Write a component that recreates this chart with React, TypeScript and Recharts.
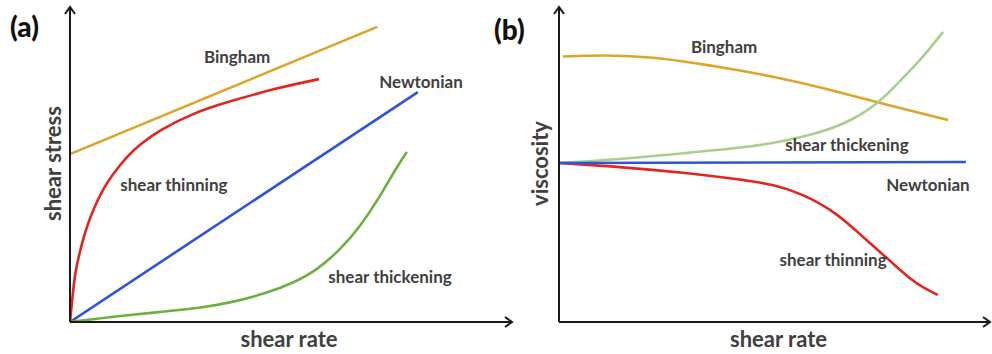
import React from 'react';
import { LineChart, Line, XAxis, YAxis, ReferenceDot } from 'recharts';

// ---- Panel (a): shear stress vs shear rate ----
const aBingham = [{ x: 0, y: 53.3 }, { x: 69.5, y: 93.7 }];
const aNewtonian = [{ x: 0, y: 0 }, { x: 78.7, y: 73.0 }];
const aThinning = [
  { x: 0, y: 0 }, { x: 0.6, y: 8.6 }, { x: 1.2, y: 15.9 }, { x: 2.0, y: 21.0 },
  { x: 3.5, y: 29.2 }, { x: 5.5, y: 36.5 }, { x: 7.5, y: 42.3 }, { x: 9.7, y: 47.0 },
  { x: 12.9, y: 52.6 }, { x: 15.8, y: 56.4 }, { x: 20.4, y: 61.0 }, { x: 27.8, y: 66.3 },
  { x: 35.5, y: 69.8 }, { x: 46.8, y: 74.3 }, { x: 56.3, y: 77.1 },
];
const aThickening = [
  { x: 0, y: 0 }, { x: 9.0, y: 1.6 }, { x: 20.4, y: 3.2 }, { x: 29.4, y: 4.4 },
  { x: 36.9, y: 6.3 }, { x: 44.6, y: 9.2 }, { x: 50.5, y: 12.4 }, { x: 55.9, y: 16.5 },
  { x: 61.1, y: 22.9 }, { x: 65.6, y: 30.2 }, { x: 70.1, y: 39.7 }, { x: 73.1, y: 47.3 },
  { x: 76.2, y: 54.0 },
];
const aLabels = [
  { text: 'Bingham', x: 37.8, y: 84.4 },
  { text: 'Newtonian', x: 79.4, y: 76.5 },
  { text: 'shear thinning', x: 23.5, y: 43.5 },
  { text: 'shear thickening', x: 72.4, y: 14.3 },
];

// ---- Panel (b): viscosity vs shear rate ----
const bBingham = [
  { x: 0.9, y: 84.3 }, { x: 10.7, y: 84.8 }, { x: 22.3, y: 84.1 }, { x: 31.6, y: 82.2 },
  { x: 41.5, y: 80.0 }, { x: 50.1, y: 77.8 }, { x: 60.6, y: 74.6 }, { x: 74.5, y: 69.5 },
  { x: 90.3, y: 64.1 },
];
const bThickening = [
  { x: 0, y: 50.5 }, { x: 14.6, y: 51.7 }, { x: 29.9, y: 53.7 }, { x: 41.5, y: 55.2 },
  { x: 50.1, y: 56.8 }, { x: 60.6, y: 60.0 }, { x: 68.2, y: 64.1 }, { x: 74.5, y: 69.8 },
  { x: 79.8, y: 77.5 }, { x: 84.5, y: 84.1 }, { x: 89.1, y: 92.1 },
];
const bNewtonian = [{ x: 0, y: 50.5 }, { x: 94.4, y: 50.8 }];
const bThinning = [
  { x: 0, y: 50.5 }, { x: 14.6, y: 49.2 }, { x: 29.9, y: 47.3 }, { x: 41.5, y: 45.4 },
  { x: 50.1, y: 43.6 }, { x: 56.6, y: 40.6 }, { x: 64.5, y: 34.6 }, { x: 70.5, y: 27.0 },
  { x: 76.1, y: 20.3 }, { x: 81.4, y: 13.6 }, { x: 85.4, y: 10.2 }, { x: 87.9, y: 8.6 },
];
const bLabels = [
  { text: 'Bingham', x: 38.3, y: 87.6 },
  { text: 'shear thickening', x: 66.8, y: 56.2 },
  { text: 'Newtonian', x: 85.6, y: 43.8 },
  { text: 'shear thinning', x: 63.6, y: 20.0 },
];

const COLORS = {
  bingham: '#DBA62A',
  thinning: '#E2261E',
  newtonian: '#2F53DD',
  thickeningA: '#6BB13F',
  thickeningB: '#A8D08D',
  text: '#404040',
  axis: '#1A1A1A',
};
const FONT = 'Lato, "Open Sans", sans-serif';

const annot = (text: string) => (p: any) => (
  <text
    x={p.cx}
    y={p.cy}
    textAnchor="middle"
    dominantBaseline="central"
    fontFamily={FONT}
    fontWeight={700}
    fontSize={17}
    fill={COLORS.text}
  >
    {text}
  </text>
);

const arrowRight = (p: any) => (
  <path
    d={`M${p.cx - 7},${p.cy - 5} L${p.cx},${p.cy} L${p.cx - 7},${p.cy + 5}`}
    stroke={COLORS.axis}
    strokeWidth={2}
    fill="none"
  />
);
const arrowUp = (p: any) => (
  <path
    d={`M${p.cx - 5},${p.cy + 7} L${p.cx},${p.cy} L${p.cx + 5},${p.cy + 7}`}
    stroke={COLORS.axis}
    strokeWidth={2}
    fill="none"
  />
);

const yTitle = (text: string, cx: number) => (props: any) => {
  const vb = props.viewBox || { x: 0, y: 7, width: 70, height: 315 };
  const cy = vb.y + vb.height / 2 - 1;
  return (
    <text
      x={cx}
      y={cy}
      transform={`rotate(-90 ${cx} ${cy})`}
      textAnchor="middle"
      dominantBaseline="central"
      fontFamily={FONT}
      fontWeight={700}
      fontSize={22}
      fill={COLORS.text}
    >
      {text}
    </text>
  );
};

const xTitle = (text: string, dx: number) => (props: any) => {
  const vb = props.viewBox || { x: 70, y: 322, width: 442, height: 32 };
  return (
    <text
      x={vb.x + vb.width / 2 + dx}
      y={vb.y + 16}
      textAnchor="middle"
      dominantBaseline="central"
      fontFamily={FONT}
      fontWeight={700}
      fontSize={22}
      fill={COLORS.text}
    >
      {text}
    </text>
  );
};

const axisLineStyle = { stroke: COLORS.axis, strokeWidth: 2 };

function Panel(props: {
  width: number;
  yWidth: number;
  right: number;
  yLabel: string;
  yLabelX: number;
  xLabelDx: number;
  series: { data: { x: number; y: number }[]; color: string; curved: boolean }[];
  labels: { text: string; x: number; y: number }[];
}) {
  return (
    <LineChart
      width={props.width}
      height={354}
      margin={{ top: 7, right: props.right, left: 0, bottom: 0 }}
    >
      <XAxis
        type="number"
        dataKey="x"
        domain={[0, 100]}
        allowDataOverflow
        height={32}
        tick={false}
        tickLine={false}
        axisLine={axisLineStyle}
        label={xTitle('shear rate', props.xLabelDx)}
      />
      <YAxis
        type="number"
        dataKey="y"
        domain={[0, 100]}
        allowDataOverflow
        width={props.yWidth}
        tick={false}
        tickLine={false}
        axisLine={axisLineStyle}
        label={yTitle(props.yLabel, props.yLabelX)}
      />
      {props.series.map((s, i) => (
        <Line
          key={i}
          data={s.data}
          dataKey="y"
          type={s.curved ? 'basis' : 'linear'}
          stroke={s.color}
          strokeWidth={2.6}
          dot={false}
          activeDot={false}
          isAnimationActive={false}
        />
      ))}
      {props.labels.map((l, i) => (
        <ReferenceDot key={'l' + i} x={l.x} y={l.y} r={0} shape={annot(l.text)} ifOverflow="visible" />
      ))}
      <ReferenceDot x={100} y={0} r={0} shape={arrowRight} ifOverflow="visible" />
      <ReferenceDot x={0} y={100} r={0} shape={arrowUp} ifOverflow="visible" />
    </LineChart>
  );
}

const panelTag = (text: string, left: number, top: number) => (
  <div
    style={{
      position: 'absolute',
      left,
      top,
      fontFamily: FONT,
      fontWeight: 900,
      fontSize: 28,
      lineHeight: '32px',
      color: '#111',
    }}
  >
    {text}
  </div>
);

export default function App() {
  return (
    <div style={{ position: 'absolute', left: 0, top: 0, width: 992, height: 354, background: '#fff', overflow: 'hidden' }}>
      <div style={{ position: 'absolute', left: 0, top: 0 }}>
        <Panel
          width={522}
          yWidth={70}
          right={10}
          yLabel="shear stress"
          yLabelX={52}
          xLabelDx={-2}
          series={[
            { data: aBingham, color: COLORS.bingham, curved: false },
            { data: aNewtonian, color: COLORS.newtonian, curved: false },
            { data: aThickening, color: COLORS.thickeningA, curved: true },
            { data: aThinning, color: COLORS.thinning, curved: true },
          ]}
          labels={aLabels}
        />
      </div>
      <div style={{ position: 'absolute', left: 492, top: 0 }}>
        <Panel
          width={500}
          yWidth={67}
          right={2}
          yLabel="viscosity"
          yLabelX={47}
          xLabelDx={4}
          series={[
            { data: bBingham, color: COLORS.bingham, curved: true },
            { data: bThickening, color: COLORS.thickeningB, curved: true },
            { data: bThinning, color: COLORS.thinning, curved: true },
            { data: bNewtonian, color: COLORS.newtonian, curved: false },
          ]}
          labels={bLabels}
        />
      </div>
      {panelTag('(a)', 10, 10)}
      {panelTag('(b)', 494, 13)}
    </div>
  );
}
